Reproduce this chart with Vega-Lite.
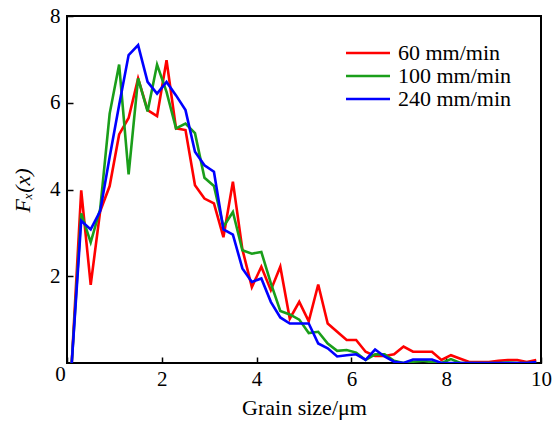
{
  "$schema": "https://vega.github.io/schema/vega-lite/v6.json",
  "width": 474,
  "height": 347,
  "autosize": "none",
  "padding": {"left": 67, "top": 16, "right": 11, "bottom": 60},
  "background": "white",
  "config": {
    "view": {"stroke": "black", "strokeWidth": 2},
    "font": "Liberation Serif, Times New Roman, serif"
  },
  "data": {
    "values": [
      {"x": 0.1, "r": 0, "g": 0, "b": 0},
      {"x": 0.3, "r": 3.98, "g": 3.45, "b": 3.28},
      {"x": 0.5, "r": 1.8, "g": 2.78, "b": 3.08},
      {"x": 0.7, "r": 3.5, "g": 3.55, "b": 3.5},
      {"x": 0.9, "r": 4.08, "g": 5.75, "b": 4.75},
      {"x": 1.1, "r": 5.27, "g": 6.88, "b": 5.95},
      {"x": 1.3, "r": 5.65, "g": 4.35, "b": 7.1},
      {"x": 1.5, "r": 6.56, "g": 6.56, "b": 7.33},
      {"x": 1.7, "r": 5.83, "g": 5.8, "b": 6.48},
      {"x": 1.9, "r": 5.69, "g": 6.88, "b": 6.21},
      {"x": 2.1, "r": 6.98, "g": 6.25, "b": 6.48},
      {"x": 2.3, "r": 5.41, "g": 5.41, "b": 6.17},
      {"x": 2.5, "r": 5.37, "g": 5.52, "b": 5.83},
      {"x": 2.7, "r": 4.1, "g": 5.3, "b": 4.87},
      {"x": 2.9, "r": 3.79, "g": 4.27, "b": 4.56},
      {"x": 3.1, "r": 3.68, "g": 4.08, "b": 4.41},
      {"x": 3.3, "r": 2.9, "g": 3.14, "b": 3.08},
      {"x": 3.5, "r": 4.18, "g": 3.48, "b": 2.96},
      {"x": 3.7, "r": 2.62, "g": 2.6, "b": 2.18},
      {"x": 3.9, "r": 1.75, "g": 2.52, "b": 1.87},
      {"x": 4.1, "r": 2.22, "g": 2.56, "b": 1.95},
      {"x": 4.3, "r": 1.68, "g": 1.84, "b": 1.41},
      {"x": 4.5, "r": 2.22, "g": 1.2, "b": 1.05},
      {"x": 4.7, "r": 1.02, "g": 1.12, "b": 0.91},
      {"x": 4.9, "r": 1.41, "g": 1.0, "b": 0.91},
      {"x": 5.1, "r": 0.96, "g": 0.69, "b": 0.91},
      {"x": 5.3, "r": 1.81, "g": 0.72, "b": 0.45},
      {"x": 5.5, "r": 0.91, "g": 0.45, "b": 0.34},
      {"x": 5.7, "r": 0.72, "g": 0.28, "b": 0.15},
      {"x": 5.9, "r": 0.53, "g": 0.3, "b": 0.18},
      {"x": 6.1, "r": 0.53, "g": 0.24, "b": 0.2},
      {"x": 6.3, "r": 0.26, "g": 0.07, "b": 0.07},
      {"x": 6.5, "r": 0.16, "g": 0.2, "b": 0.31},
      {"x": 6.7, "r": 0.16, "g": 0.2, "b": 0.15},
      {"x": 6.9, "r": 0.2, "g": 0.05, "b": 0.03},
      {"x": 7.1, "r": 0.38, "g": 0, "b": 0},
      {"x": 7.3, "r": 0.26, "g": 0.03, "b": 0.08},
      {"x": 7.5, "r": 0.26, "g": 0.05, "b": 0.08},
      {"x": 7.7, "r": 0.26, "g": 0.02, "b": 0.08},
      {"x": 7.9, "r": 0.07, "g": 0, "b": 0},
      {"x": 8.1, "r": 0.18, "g": 0.09, "b": 0},
      {"x": 8.3, "r": 0.1, "g": 0, "b": 0},
      {"x": 8.5, "r": 0.02, "g": 0, "b": 0},
      {"x": 8.7, "r": 0.02, "g": 0, "b": 0},
      {"x": 8.9, "r": 0.02, "g": 0, "b": 0},
      {"x": 9.1, "r": 0.05, "g": 0, "b": 0},
      {"x": 9.3, "r": 0.07, "g": 0.01, "b": 0},
      {"x": 9.5, "r": 0.07, "g": 0, "b": 0},
      {"x": 9.7, "r": 0.02, "g": 0, "b": 0},
      {"x": 9.9, "r": 0.07, "g": 0.01, "b": 0.02}
    ]
  },
  "transform": [
    {"fold": ["r", "g", "b"], "as": ["series", "y"]}
  ],
  "mark": {"type": "line", "strokeWidth": 2.6, "clip": true},
  "encoding": {
    "x": {
      "field": "x",
      "type": "quantitative",
      "scale": {"domain": [0, 10], "nice": false, "zero": false},
      "axis": {
        "title": "Grain size/μm",
        "values": [0, 2, 4, 6, 8, 10],
        "grid": false,
        "domain": false,
        "tickSize": -6,
        "tickColor": "black",
        "tickWidth": 1.5,
        "labelFont": "Liberation Serif, Times New Roman, serif",
        "labelFontSize": 21,
        "labelColor": "black",
        "labelPadding": {"condition": {"test": "datum.value == 0", "value": 6}, "value": 11},
        "labelFlush": false,
        "labelOffset": {"condition": {"test": "datum.value == 0", "value": -7}, "value": 0},
        "titleFont": "Liberation Serif, Times New Roman, serif",
        "titleFontSize": 22,
        "titleFontWeight": "normal",
        "titleColor": "black",
        "titlePadding": 8
      }
    },
    "y": {
      "field": "y",
      "type": "quantitative",
      "scale": {"domain": [0, 8], "nice": false},
      "axis": {
        "title": "Fₓ(x)",
        "values": [2, 4, 6, 8],
        "grid": false,
        "domain": false,
        "tickSize": -6,
        "tickColor": "black",
        "tickWidth": 1.5,
        "labelFont": "Liberation Serif, Times New Roman, serif",
        "labelFontSize": 21,
        "labelColor": "black",
        "labelPadding": 13,
        "labelFlush": false,
        "titleFont": "Liberation Serif, Times New Roman, serif",
        "titleFontSize": 22,
        "titleFontWeight": "normal",
        "titleFontStyle": "italic",
        "titleColor": "black",
        "titleX": -45,
        "titleY": 174,
        "titleAlign": "center",
        "titleBaseline": "middle",
        "titleAngle": -90
      }
    },
    "color": {
      "field": "series",
      "type": "nominal",
      "sort": ["r", "g", "b"],
      "scale": {"domain": ["r", "g", "b"], "range": ["#ff0000", "#1a9e1a", "#0000ff"]},
      "legend": {
        "title": null,
        "orient": "none",
        "legendX": 290,
        "legendY": 26,
        "labelExpr": "datum.value == 'r' ? '60 mm/min' : datum.value == 'g' ? '100 mm/min' : '240 mm/min'",
        "symbolType": "M-4,0H4",
        "symbolSize": 121,
        "symbolStrokeWidth": 2.6,
        "labelOffset": 19,
        "labelFont": "Liberation Serif, Times New Roman, serif",
        "labelFontSize": 22,
        "labelColor": "black",
        "rowPadding": 1,
        "padding": 0
      }
    }
  }
}
